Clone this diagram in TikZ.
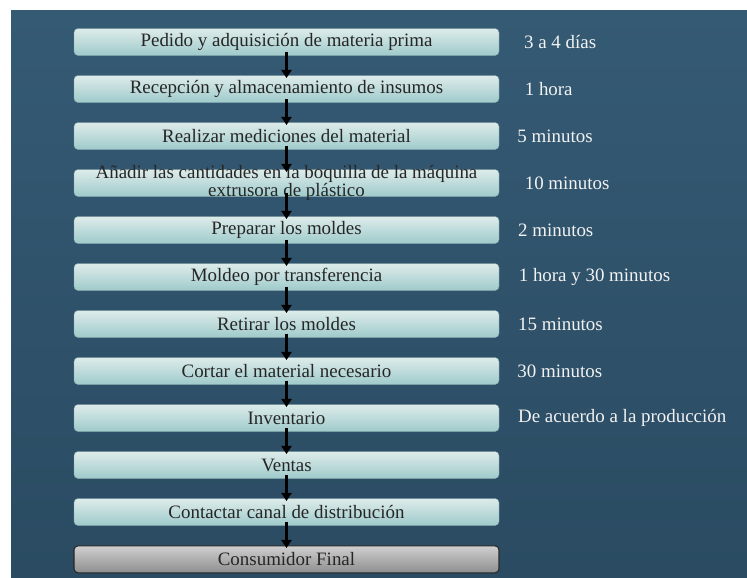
\documentclass[tikz,border=0pt]{standalone}
\usepackage{fontspec}
\setmainfont{Liberation Serif}
\usetikzlibrary{positioning, arrows.meta}

\definecolor{fondo}{HTML}{355A74}
\definecolor{fondoosc}{HTML}{2A4B62}
\definecolor{cajaclara}{HTML}{DDECEA}
\definecolor{cajaosc}{HTML}{9FCACB}
\definecolor{grisclaro}{HTML}{CFCFCF}
\definecolor{grisosc}{HTML}{8E8E8E}

\tikzset{
	paso/.style={rectangle, rounded corners=3pt, minimum width=318.75pt, minimum height=20.25pt,
		inner sep=0pt, top color=cajaclara, bottom color=cajaosc, draw=cajaosc!80!black, line width=0.3pt,
		text=black!85, font=\fontsize{14.2}{15}\selectfont},
	final/.style={paso, top color=grisclaro, bottom color=grisosc, draw=black!85, line width=0.8pt},
	tiempo/.style={anchor=west, text=white!95!black, font=\fontsize{14.2}{15}\selectfont, inner sep=0pt},
	flecha/.style={line width=2pt, -{Triangle[length=6pt,width=7.5pt]}, shorten <=-3pt, shorten >=-2pt}
}

\begin{document}
\begin{tikzpicture}[x=0.75pt, y=-0.75pt, node distance=14.7pt]
	% margen y fondo
	\useasboundingbox (0,0) rectangle (747,578);
	\fill[white] (0,0) rectangle (747,578);
	\shade[top color=fondo, bottom color=fondoosc] (11,10) rectangle (747,578);

	% pasos del proceso
	\node[paso] (pedido) at (286.5,42) {Pedido y adquisición de materia prima};
	\node[paso, below=of pedido] (recepcion) {Recepción y almacenamiento de insumos};
	\node[paso, below=of recepcion] (medir) {Realizar mediciones del material};
	\node[paso, below=of medir, label={[align=center, text=black!85, font=\fontsize{14.2}{12.2}\selectfont]center:Añadir las cantidades en la boquilla de la máquina\\extrusora de plástico}] (anadir) {};
	\node[paso, below=of anadir] (moldes) {Preparar los moldes};
	\node[paso, below=of moldes] (moldeo) {Moldeo por transferencia};
	\node[paso, below=of moldeo] (retirar) {Retirar los moldes};
	\node[paso, below=of retirar] (cortar) {Cortar el material necesario};
	\node[paso, below=of cortar] (inventario) {Inventario};
	\node[paso, below=of inventario] (ventas) {Ventas};
	\node[paso, below=of ventas] (contactar) {Contactar canal de distribución};
	\node[final, below=of contactar] (consumidor) {Consumidor Final};

	% flechas entre pasos
	\foreach \a/\b in {pedido/recepcion, recepcion/medir, medir/anadir, anadir/moldes,
		moldes/moldeo, moldeo/retirar, retirar/cortar, cortar/inventario,
		inventario/ventas, ventas/contactar, contactar/consumidor}
		\draw[flecha] (\a.south) -- (\b.north);

	% tiempos
	\node[tiempo, right=18.5pt of pedido] (t1) {3 a 4 días};
	\node[tiempo, right=19pt of recepcion] (t2) {1 hora};
	\node[tiempo, right=13.5pt of medir] (t3) {5 minutos};
	\node[tiempo, right=19pt of anadir] (t4) {10 minutos};
	\node[tiempo, right=14pt of moldes] (t5) {2 minutos};
	\node[tiempo, right=14.5pt of moldeo] (t6) {1 hora y 30 minutos};
	\node[tiempo, right=14pt of retirar] (t7) {15 minutos};
	\node[tiempo, right=13.5pt of cortar] (t8) {30 minutos};
	\node[tiempo, right=14pt of inventario] (t9) {De acuerdo a la producción};
\end{tikzpicture}
\end{document}
